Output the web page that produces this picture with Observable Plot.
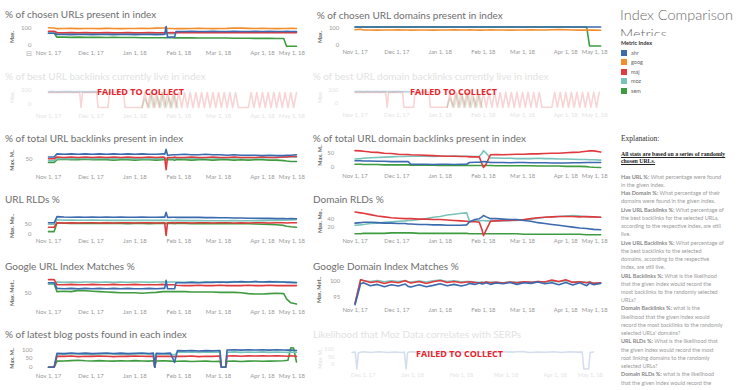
<!DOCTYPE html>
<html><head><meta charset="utf-8">
<script src="https://cdn.jsdelivr.net/npm/d3@7"></script>
<script src="https://cdn.jsdelivr.net/npm/@observablehq/plot@0.6"></script>
<style>
body{margin:0;background:#fff;width:738px;height:390px;overflow:hidden;position:relative;font-family:Lato,sans-serif}
.title{position:absolute;font-size:10px;line-height:12px;color:#6e6e6e;white-space:nowrap}
.title.faded{color:#e2e2e2}
.ylab{position:absolute;font-size:5.5px;line-height:6px;color:#666;font-weight:bold;white-space:nowrap;transform:translate(-50%,-50%) rotate(-90deg)}
.ylab.faded{color:#e6e6e6}
.failed{position:absolute;font-family:"Open Sans",sans-serif;font-weight:700;font-size:9px;line-height:10px;color:#e8232a;white-space:nowrap}
.wrap{position:absolute;overflow:hidden}
.wrap svg{display:block}
#head{position:absolute;left:620px;top:4.6px;width:118px;height:31px;overflow:hidden;font-size:14.5px;line-height:19px;color:#6c6c6c;font-weight:300;white-space:nowrap}
#legtitle{position:absolute;left:621px;top:40px;font-size:5.5px;line-height:6px;font-weight:bold;color:#333}
.leg{position:absolute;left:621px;font-size:5.5px;line-height:6px;color:#666}
.leg i{display:inline-block;width:6px;height:6px;vertical-align:top;margin-right:4px}
#expl{position:absolute;left:621px;top:134px;font-family:"Liberation Serif",serif;font-size:7.5px;color:#333}
#stats{position:absolute;left:621px;top:151px;font-family:"Liberation Serif",serif;font-size:5.8px;line-height:6.5px;font-weight:bold;text-decoration:underline;color:#222;white-space:nowrap}
#text{position:absolute;left:621px;top:172.7px;font-size:5.5px;line-height:8.24px;color:#9a9a9a;white-space:nowrap}
#text b{color:#888}
</style></head>
<body>
<div id="head">Index Comparison<br>Metrics</div>
<div id="legtitle">Metric Index</div>
<div id="legend"></div>
<div id="expl">Explanation:</div>
<div id="stats">All stats are based on a series of randomly<br>chosen URLs.</div>
<div id="text"></div>
<script>
// ---------- metrics ----------
const metrics = ["ahr", "goog", "maj", "moz", "sem"];
const metricColors = ["#3b6aae", "#f28e2b", "#e0393e", "#79c3ba", "#3f9b3f"];
const drawOrder = ["sem", "moz", "maj", "goog", "ahr"];

// x ticks (days after Nov 1, 2017)
const xTickDays = [0, 30, 61, 92, 120, 151, 181];
const xTickLabels = ["Nov 1, 17", "Dec 1, 17", "Jan 1, 18", "Feb 1, 18", "Mar 1, 18", "Apr 1, 18", "May 1, 18"];

// ---------- day grids ----------
const daysL = [0,4,6,11,16,21,26,31,36,41,46,51,56,61,66,71,76,81,82,83,84,88,89,90,96,101,106,111,116,121,126,131,136,141,146,151,156,161,166,168,171,175];
const daysM = [0,4,6,11,16,21,26,31,36,38,40,46,51,56,61,66,71,76,80,82,86,89,91,92,94,97,101,106,111,116,121,126,131,136,141,146,151,156,161,166,168,171,176];
const daysBlog = [0,4,6,11,16,21,26,31,36,41,46,51,56,61,66,71,74,75,76,81,86,89,91,96,101,106,111,116,121,122,125,126,131,136,141,146,151,156,161,166,169,171,173,175];

// ---------- % of chosen URLs present in index ----------
const urlGoog = [104,103,99,100,101,99,100,100,99,101,100,99,100,100,101,100,102,103,104,102,100,100,99,100,99,100,101,100,99,100,101,103,102,101,100,101,100,99,100,100,101,100];
const urlMaj = [84,84,76,75,76,75,76,75,75,76,75,75,76,75,75,76,75,75,75,75,75,76,75,76,75,75,76,75,75,76,75,76,75,75,76,75,75,76,75,75,76,75];
const urlMoz = [80,80,70,69,70,69,70,70,69,70,69,70,70,69,70,69,70,70,70,71,69,69,69,79,79,80,79,80,79,80,80,79,80,80,79,80,80,79,80,79,80,79];
const urlAhr = [72,72,65,65,64,65,65,64,65,65,64,65,65,64,65,65,64,65,66,112,49,49,49,82,82,83,82,82,83,82,82,83,82,82,83,82,83,82,82,83,82,82];
const urlSem = [72,72,49,49,48,49,48,48,48,47,48,47,47,47,46,46,46,46,46,46,46,46,45,45,45,45,44,44,44,44,44,43,43,43,42,42,42,41,41,-4,-4,-4];

// ---------- % of chosen URL domains present in index ----------
const domAhr = [108,108,108,108,108,108,108,108,108,108,108,108,108,108,108,108,108,108,108,108,108,108,108,108,108,108,108,108,108,108,108,108,108,108,108,108,108,108,108,108,108,108,108];
const domGoog = [92,95,91,91,90,91,91,92,91,91,90,91,91,90,91,91,92,91,91,92,91,90,90,91,91,92,91,91,90,91,91,92,91,91,92,93,92,91,90,91,90,91,89];
const domSem = [108,108,108,108,108,108,108,108,108,108,108,108,108,108,108,108,108,108,108,108,108,108,108,108,108,108,108,108,108,108,108,108,108,108,108,108,108,108,108,108,-4,-4,-4];

// ---------- best backlinks live (failed to collect) ----------
const liveAhrDays = [0,3,6,9,12,15,18,21,24,27,30,33,36,39];
const liveAhr = [92,94,91,93,92,94,91,93,92,91,93,92,91,90];
const liveMozDays = [0,4,8,12,16,20,24,28,32,36,40,44];
const liveMoz = [88,87,89,88,87,89,88,87,88,89,88,87];
const liveMajDays = [0,22,23,24,34,35,42,43,53,54,66,68,70,72,74,76,78,80,82,84,86,88,90,92,94,96,98,100,102,104,106,108,110,112,114,116,118,120,122,124,126,128,130,132,134,141,143,145,147,149,151,153,155,157,159,161,163,165,167,169,171,173,175];
const liveMaj = [85,85,-28,85,85,-28,-28,85,85,-28,-28,85,-28,85,-28,85,-28,85,-28,85,-28,85,-28,85,-28,85,-28,85,-28,85,-28,85,-28,85,-28,85,-28,85,-28,85,-28,85,-28,85,-28,-28,85,-28,85,-28,85,-28,85,-28,85,-28,85,-28,85,-28,85,-28,85];
const liveSemDays = [66,68,71,73,75,77,79,81,83,85,87,89,91];
const liveSem = [-28,40,-28,80,-28,60,-28,85,-28,50,-28,70,-28];

// ---------- % of total URL backlinks present in index ----------
const tblAhr = [54,54,61,60,61,60,61,60,61,60,61,60,61,60,61,60,60,61,60,71,58,59,59,59,60,59,59,60,59,59,58,59,58,58,58,57,58,57,57,58,58,59];
const tblMaj = [50,50,54,53,54,53,54,53,54,53,54,53,54,53,53,54,53,54,53,26,53,53,54,53,53,54,53,53,54,53,53,54,53,53,53,54,53,53,54,54,55,55];
const tblMoz = [46,46,50,51,50,51,51,50,51,51,50,51,51,50,51,50,51,51,51,51,51,51,51,52,51,52,51,52,52,51,52,52,52,53,52,52,53,53,54,54,54,54];
const tblSem = [42,42,48,49,48,48,49,48,48,48,47,48,48,47,48,48,47,48,48,48,48,48,47,48,48,47,48,48,47,48,48,47,48,47,48,48,47,47,46,45,44,44];

// ---------- % of total URL domain backlinks present in index ----------
const tdbMaj = [57,56,55,52,51,48,47,45,44,44,43,42,41,40,39,38,38,37,37,36,36,36,12,0,12,43,44,43,44,45,45,46,46,47,48,48,50,51,52,55,56,56,52];
const tdbMoz = [29,30,31,33,34,35,36,37,37,38,38,38,38,37,38,38,39,38,38,38,37,37,48,57,48,32,32,31,31,30,30,30,31,30,30,29,29,28,27,27,26,26,25];
const tdbAhr = [23,23,22,22,21,21,20,20,20,20,11,11,11,10,11,11,10,11,11,17,18,18,19,20,19,17,17,17,16,17,17,16,16,16,15,15,15,16,16,17,17,17,17];
const tdbSem = [11,11,10,10,10,9,9,9,9,9,8,8,8,8,7,7,7,7,7,7,7,7,7,7,7,7,6,6,6,6,6,6,5,5,5,5,4,4,4,3,2,1,0];

// ---------- URL RLDs % ----------
const urlRldAhr = [55,55,86,84,83,84,83,84,83,84,83,84,83,83,84,83,83,84,83,108,82,83,83,82,83,82,82,81,81,80,80,79,79,78,78,77,77,76,76,75,76,75];
const urlRldMoz = [48,48,70,68,69,68,68,69,68,67,68,67,67,68,67,67,67,68,67,68,67,66,66,67,66,66,66,65,65,65,65,66,65,65,66,66,67,67,68,68,69,70];
const urlRldMaj = [33,33,55,54,55,54,55,55,54,55,54,55,55,54,55,55,54,55,55,-8,55,55,54,55,55,54,55,55,54,55,55,54,55,54,55,55,54,55,55,54,55,55];
const urlRldSem = [11,11,55,53,52,53,52,52,52,53,52,52,51,52,52,51,52,52,52,52,52,52,51,52,52,51,51,52,51,51,51,50,50,50,49,48,47,45,42,38,35,33];

// ---------- Domain RLDs % ----------
const domRldMaj = [55,53,52,49,46,44,42,41,40,40,40,39,39,38,38,37,36,35,34,33,33,32,15,2,15,34,35,36,36,37,38,40,42,43,44,45,45,45,44,45,44,44,43];
const domRldMoz = [25,26,27,29,30,32,33,34,35,36,36,38,40,43,45,48,50,52,53,34,35,35,36,36,35,35,35,35,36,36,37,39,41,43,44,45,46,47,46,44,45,44,43];
const domRldAhr = [30,31,32,32,31,30,30,29,29,28,28,27,27,26,26,25,25,25,26,33,38,40,44,47,44,40,40,39,38,38,36,34,31,29,27,25,23,21,19,18,17,16,15];
const domRldSem = [6,6,7,7,7,7,8,8,8,8,8,7,7,7,7,7,7,7,7,6,6,6,6,6,6,6,6,6,6,6,5,5,5,5,5,5,5,5,5,4,4,4,4];

// ---------- Google URL Index Matches % ----------
const gUrlMaj = [83,83,70,70,71,70,70,71,70,70,71,70,70,71,70,70,70,71,70,70,70,70,70,69,68,68,69,68,68,69,68,68,68,69,68,68,69,68,68,68,68,68];
const gUrlMoz = [73,73,77,76,77,76,77,77,76,77,76,77,76,77,77,76,77,77,77,77,77,77,77,77,76,77,76,77,77,76,77,78,77,77,78,77,77,78,77,77,76,76];
const gUrlAhr = [75,75,61,60,61,60,61,60,61,60,61,60,61,60,60,61,60,61,61,81,60,60,60,75,75,76,75,76,76,77,76,77,78,77,78,77,78,77,77,76,76,75];
const gUrlSem = [72,72,53,54,53,56,55,54,53,52,51,50,50,50,49,50,51,53,53,53,53,53,53,53,53,52,52,52,52,51,51,51,50,48,47,47,48,49,48,35,25,22];

// ---------- Google Domain Index Matches % ----------
const gDomMaj = [93.2,100.4,100.2,99.6,99.9,99.3,99.8,99.5,100.1,99.7,99.4,99.9,99.3,99.8,100.2,99.6,99.9,99.5,99.7,99.8,99.6,99.4,99.6,99.5,99.7,99.5,99.6,99.4,99.7,99.5,99.8,99.6,99.9,99.7,100.3,99.9,100.4,99.6,99.8,99.5,99.7,99.3,99.5];
const gDomMoz = [93.3,100.5,100.1,99.9,100.2,99.8,100.1,99.9,100.2,99.8,99.7,100.0,99.7,100.1,100.3,99.9,100.1,99.8,99.9,99.9,99.7,99.6,99.7,99.6,99.8,99.6,99.7,99.5,99.7,99.6,99.8,99.7,99.9,99.7,100.0,99.8,100.1,99.7,99.8,99.6,99.7,99.4,99.5];
const gDomAhr = [92.8,99.2,99.5,98.6,99.0,98.3,98.9,98.5,99.1,98.4,98.2,98.9,98.3,98.7,99.2,98.6,99.0,98.5,98.9,99.3,99.0,99.4,99.1,99.2,99.5,99.0,99.4,99.2,99.6,99.0,99.5,99.3,99.7,99.2,99.5,98.9,99.6,98.8,99.5,98.6,99.4,98.9,99.3];

// ---------- % of latest blog posts found in each index ----------
const blogAhr = [0,0,80,78,82,79,81,78,80,82,79,81,78,80,82,79,81,0,80,79,81,28,95,94,96,93,95,94,96,0,0,99,100,98,100,99,100,98,100,99,98,99,97,96];
const blogMoz = [0,0,75,73,77,74,76,72,75,77,74,76,72,75,77,74,76,0,75,74,76,70,87,86,88,85,87,86,88,0,0,86,88,85,87,86,88,85,87,86,85,87,86,85];
const blogMaj = [0,0,63,62,64,61,63,62,64,63,61,63,62,64,63,62,63,0,62,63,62,60,63,62,64,61,63,62,64,0,0,64,65,63,65,64,66,64,65,64,63,65,64,62];
const blogSem = [0,0,35,36,38,40,37,36,38,36,35,37,36,38,36,35,37,0,36,37,35,33,34,35,33,34,35,33,34,0,0,34,35,33,35,36,34,35,36,37,40,112,110,30];

// ---------- Likelihood that Moz Data correlates with SERPs (failed) ----------
const serpDays = [23,25,26,27,30,35,40,45,50,55,56,57,58,60,65,70,75,80,85,90,95,100,105,110,115,120,125,130,135,140,145,150,155,160,165,168,169,172,173,175];
const serpVals = [80,82,-30,78,85,80,84,79,83,80,82,-30,80,84,81,85,79,83,80,84,81,85,80,83,79,84,82,86,80,83,81,85,80,84,82,83,-30,-30,80,82];

// ---------- explanation ----------
const explanation = [
  ["Has URL %:", " What percentage were found"], ["", "in the given index."],
  ["Has Domain %:", " What percentage of their"], ["", "domains were found in the given index."],
  ["Live URL Backlinks %:", " What percentage of"], ["", "the best backlinks for the selected URLs,"],
  ["", "according to the respective index, are still"], ["", "live."],
  ["Live URL Backlinks %:", " What percentage of"], ["", "the best backlinks to the selected"],
  ["", "domains, according to the respective"], ["", "index, are still live."],
  ["URL Backlinks %:", " What is the likelihood"], ["", "that the given index would record the"],
  ["", "most backlinks to the randomly selected"], ["", "URLs?"],
  ["Domain Backlinks %:", " what is the"], ["", "likelihood that the given index would"],
  ["", "record the most backlinks to the randomly"], ["", "selected URLs' domains?"],
  ["URL RLDs %:", " What is the likelihood that"], ["", "the given index would record the most"],
  ["", "root linking domains to the randomly"], ["", "selected URLs?"],
  ["Domain RLDs %:", " what is the likelihood"], ["", "that the given index would record the"]
];

// ---------- layout helpers ----------
const parse = d => new Date(Date.UTC(2017, 10, 1) + d * 864e5);
const colL = {left: 0, width: 306, clip: 306, x0: 46.58, x1: 305.9, d0: -1, d1: 182};
const colM = {left: 305, width: 307, clip: 304, x0: 353.59, x1: 611.6, d0: -1, d1: 182};
const colS = {left: 305, width: 316, clip: 304, x0: 350.15, x1: 620.75, d0: 21, d1: 185};

function S(days, vals) { return {days, vals}; }

const panels = [
  {title: "% of chosen URLs present in index", tx: 5, ty: 14, col: colL, frame: [25, 48], yA: [100, 28], yB: [0, 45], ticks: [0, 100], tickRight: 31, labelY: 54, ylab: "Max.", ylx: 12, yly: 37,
   series: {goog: S(daysL, urlGoog), maj: S(daysL, urlMaj), moz: S(daysL, urlMoz), ahr: S(daysL, urlAhr), sem: S(daysL, urlSem)}},
  {title: "% of chosen URL domains present in index", tx: 316.7, ty: 15, col: colM, frame: [25, 48], yA: [100, 28], yB: [0, 45], ticks: [0, 100], tickRight: 339, labelY: 54, ylab: "Max.", ylx: 320, yly: 37,
   series: {goog: S(daysM, domGoog), ahr: S(daysM, domAhr), sem: S(daysM, domSem)}},
  {title: "% of best URL backlinks currently live in index", tx: 5, ty: 76, col: colL, frame: [85, 110], yA: [100, 90], yB: [0, 103.3], ticks: [0, 100], tickRight: 31, labelY: 117, ylab: "Max.", ylx: 12, yly: 97, faded: true,
   series: {ahr: S(liveAhrDays, liveAhr), moz: S(liveMozDays, liveMoz), maj: S(liveMajDays, liveMaj), sem: S(liveSemDays, liveSem)}},
  {title: "% of best URL domain backlinks currently live in index", tx: 312.7, ty: 76, col: colM, frame: [85, 110], yA: [100, 90], yB: [0, 103.3], ticks: [0, 100], tickRight: 338, labelY: 117, ylab: "Max.", ylx: 320, yly: 97, faded: true,
   series: {ahr: S(liveAhrDays, liveAhr), moz: S(liveMozDays, liveMoz), maj: S(liveMajDays, liveMaj), sem: S(liveSemDays, liveSem)}},
  {title: "% of total URL backlinks present in index", tx: 5, ty: 138, col: colL, frame: [145, 171], yA: [50, 158.3], yB: [0, 180.8], ticks: [50], tickRight: 32, labelY: 178.3, ylab: "Max. M..", ylx: 12, yly: 160,
   series: {ahr: S(daysL, tblAhr), maj: S(daysL, tblMaj), moz: S(daysL, tblMoz), sem: S(daysL, tblSem)}},
  {title: "% of total URL domain backlinks present in index", tx: 312.7, ty: 138, col: colM, frame: [145, 170], yA: [50, 152.3], yB: [0, 167.3], ticks: [0, 50], tickRight: 334, labelY: 178.3, ylab: "Max. M..", ylx: 320, yly: 155,
   series: {ahr: S(daysM, tdbAhr), maj: S(daysM, tdbMaj), moz: S(daysM, tdbMoz), sem: S(daysM, tdbSem)}},
  {title: "URL RLDs %", tx: 5, ty: 199, col: colL, frame: [208, 237], yA: [50, 223.3], yB: [0, 233.3], ticks: [0, 50], tickRight: 31, labelY: 242.3, ylab: "Max. Me..", ylx: 12, yly: 226,
   series: {ahr: S(daysL, urlRldAhr), maj: S(daysL, urlRldMaj), moz: S(daysL, urlRldMoz), sem: S(daysL, urlRldSem)}},
  {title: "Domain RLDs %", tx: 313, ty: 199, col: colM, frame: [208, 238], yA: [40, 218.3], yB: [20, 227.3], ticks: [20, 40], tickRight: 334, labelY: 243, ylab: "Max. Me..", ylx: 320, yly: 221,
   series: {ahr: S(daysM, domRldAhr), maj: S(daysM, domRldMaj), moz: S(daysM, domRldMoz), sem: S(daysM, domRldSem)}},
  {title: "Google URL Index Matches %", tx: 5, ty: 266, col: colL, frame: [275, 306], yA: [50, 292.3], yB: [0, 312.3], ticks: [50], tickRight: 31, labelY: 313.3, ylab: "Max. Met..", ylx: 12, yly: 293,
   series: {ahr: S(daysL, gUrlAhr), maj: S(daysL, gUrlMaj), moz: S(daysL, gUrlMoz), sem: S(daysL, gUrlSem)}},
  {title: "Google Domain Index Matches %", tx: 313, ty: 266, col: colM, frame: [275, 306], yA: [100, 280.7], yB: [95, 297.3], ticks: [95, 100], tickRight: 340, labelY: 312.3, ylab: "Max. Met..", ylx: 319, yly: 290,
   series: {ahr: S(daysM, gDomAhr), maj: S(daysM, gDomMaj), moz: S(daysM, gDomMoz)}},
  {title: "% of latest blog posts found in each index", tx: 5, ty: 334, col: colL, frame: [343, 370], yA: [100, 349.3], yB: [0, 366.7], ticks: [0, 50, 100], tickRight: 32, labelY: 377.3, ylab: "Max. M..", ylx: 12, yly: 358,
   series: {ahr: S(daysBlog, blogAhr), maj: S(daysBlog, blogMaj), moz: S(daysBlog, blogMoz), sem: S(daysBlog, blogSem)}},
  {title: "Likelihood that Moz Data correlates with SERPs", tx: 313, ty: 334, col: colS, frame: [343, 372], yA: [100, 349.3], yB: [0, 365], ticks: [0, 50, 100], tickRight: 335, labelY: 378.3, ylab: "Max. M..", ylx: 320, yly: 358, faded: true, skipFirstTick: true,
   series: {ahr: S(serpDays, serpVals)}}
];

const failed = [{x: 97, y: 86.7}, {x: 410, y: 86.7}, {x: 416, y: 348.7}];

function el(tag, cls, css, html) {
  const e = document.createElement(tag);
  if (cls) e.className = cls;
  Object.assign(e.style, css);
  if (html != null) e.innerHTML = html;
  document.body.appendChild(e);
  return e;
}

for (const p of panels) {
  const c = p.col;
  const top = p.frame[0] - 4;
  const height = Math.ceil(p.labelY + 6 - top);
  const k = (p.yB[1] - p.yA[1]) / (p.yB[0] - p.yA[0]);
  const vAt = px => p.yA[0] + (px - p.yA[1]) / k;
  const rows = [];
  for (const m of drawOrder) {
    const s = p.series[m];
    if (!s) continue;
    s.days.forEach((d, i) => rows.push({metric: m, date: parse(d), value: s.vals[i]}));
  }
  const textFill = p.faded ? "#e4e4e4" : "#999";
  const tDays = p.skipFirstTick ? xTickDays.slice(1) : xTickDays;
  const tLabels = p.skipFirstTick ? xTickLabels.slice(1) : xTickLabels;
  const mid = tDays.slice(0, -1), midLab = tLabels.slice(0, -1);
  const last = tDays.slice(-1), lastLab = tLabels.slice(-1);
  const svg = Plot.plot({
    width: c.width, height,
    marginLeft: c.x0 - c.left, marginRight: c.left + c.width - c.x1,
    marginTop: p.frame[0] - top, marginBottom: top + height - p.frame[1],
    x: {type: "utc", domain: [parse(c.d0), parse(c.d1)], axis: null},
    y: {domain: [vAt(p.frame[1]), vAt(p.frame[0])], axis: null},
    color: {domain: metrics, range: metricColors},
    style: {background: "transparent", overflow: "visible", fontFamily: "Lato, sans-serif"},
    marks: [
      Plot.text(p.ticks, {y: d => d, frameAnchor: "left", textAnchor: "end", dx: -(c.x0 - p.tickRight), text: d => String(d), fontSize: 6, fill: textFill}),
      Plot.text(mid, {x: d => parse(d), frameAnchor: "bottom", dy: p.labelY - p.frame[1], text: (d, i) => midLab[i], fontSize: 6, fill: textFill}),
      Plot.text(last, {x: d => parse(d), frameAnchor: "bottom", textAnchor: "end", dy: p.labelY - p.frame[1], text: (d, i) => lastLab[i], fontSize: 6, fill: textFill}),
      Plot.lineY(rows, {x: "date", y: "value", z: "metric", stroke: "metric", strokeWidth: 1.6, strokeOpacity: p.faded ? 0.22 : 1})
    ]
  });
  const w = el("div", "wrap", {left: c.left + "px", top: top + "px", width: c.clip + "px", height: height + "px"});
  w.appendChild(svg);
  el("div", "title" + (p.faded ? " faded" : ""), {left: p.tx + "px", top: (p.ty - 6.3) + "px"}, p.title);
  el("div", "ylab" + (p.faded ? " faded" : ""), {left: p.ylx + "px", top: p.yly + "px"}, p.ylab);
}
for (const f of failed) el("div", "failed", {left: f.x + "px", top: f.y + "px"}, "FAILED TO COLLECT");
el("div", null, {position: "absolute", left: "26px", top: "50px", fontSize: "7px", color: "#aaa", fontFamily: "DejaVu Sans"}, "\u229F");

// legend
metrics.forEach((m, i) => {
  el("div", "leg", {top: (49.5 + i * 9.6) + "px"}, `<i style="background:${metricColors[i]}"></i>${m}`);
});
// explanation
document.getElementById("text").innerHTML = explanation.map(([b, t]) => `<div>${b ? "<b>" + b + "</b>" : ""}${t}</div>`).join("");
</script>
</body></html>
